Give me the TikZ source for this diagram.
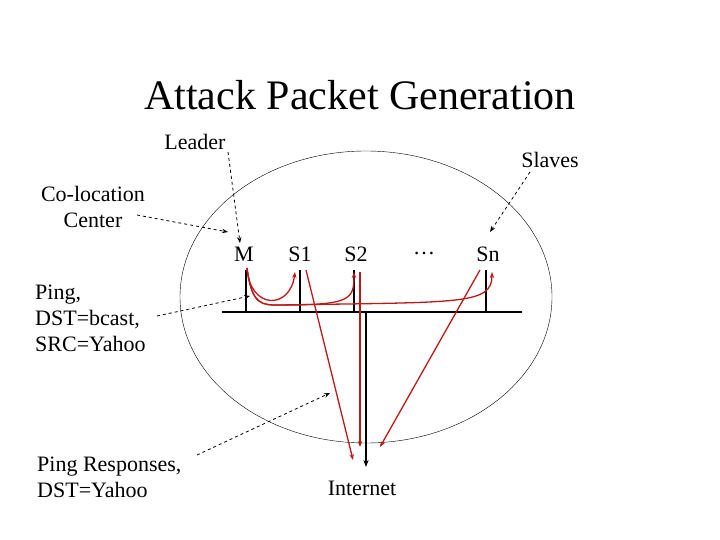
\documentclass[tikz,border=0pt]{standalone}
\usepackage{fontspec}
\setmainfont{Liberation Serif}
\usetikzlibrary{arrows.meta,shapes.geometric}
\definecolor{redline}{RGB}{190,25,25}
\begin{document}
\begin{tikzpicture}[x=1pt,y=-1pt,
  lbl/.style={font=\fontsize{22}{26}\selectfont,align=left,inner sep=0pt},
  dasharrow/.style={dashed,thick,-{Stealth[length=6pt]}},
  redarrow/.style={redline,line width=1.3pt,-{Stealth[length=6pt]}},
  wire/.style={line width=1.5pt}]
\useasboundingbox (0,0) rectangle (720,540);
\node (title) at (360,95) {\fontsize{42}{46}\selectfont Attack Packet Generation};
\node[draw,ellipse,minimum width=372pt,minimum height=292pt,inner sep=0pt] (ell) at (366,297) {};
\node[lbl] (leader) at (195,142) {Leader};
\node[lbl] (slaves) at (550,160) {Slaves};
\node[lbl,align=center] (coloc) at (93,207) {Co-location\\Center};
\node[lbl,anchor=west] (ping) at (35,318) {Ping,\\DST=bcast,\\SRC=Yahoo};
\node[lbl,anchor=west] (resp) at (37,477) {Ping Responses,\\DST=Yahoo};
\node[lbl] (inet) at (362,488) {Internet};
\node[lbl] (M) at (244,254) {M};
\node[lbl] (S1) at (300,254) {S1};
\node[lbl] (S2) at (356,254) {S2};
\node[lbl] (dots) at (424,254) {\dots};
\node[lbl] (Sn) at (488,254) {Sn};
% bus
\coordinate (bl) at (222,312); \coordinate (br) at (522,312);
\draw[wire] (bl) -- (br);
\foreach \n/\x in {m/246,a/300,b/354,n/486}{
  \coordinate (\n top) at (\x,270); \coordinate (\n bot) at (\x,312);
  \draw[wire] (\n top) -- (\n bot);}
\coordinate (trunk) at (366,312); \coordinate (trunkend) at (366,467);
\draw[wire,-{Stealth[length=7pt]}] (trunk) -- (trunkend);
% red curves
\coordinate (mr) at (247,268);
\coordinate (s1in) at (295,272); \coordinate (s2in) at (354,272); \coordinate (snin) at (492,272);
\draw[redarrow] (mr) .. controls (250,310) and (290,310) .. (s1in);
\draw[redarrow] (mr) .. controls (252,306) and (262,305) .. (280,305) .. controls (350,305) and (354,300) .. (s2in);
\draw[redarrow] (mr) .. controls (252,306) and (262,305) .. (280,305) .. controls (460,302) and (492,305) .. (snin);
\coordinate (s1out) at (306,270); \coordinate (s2out) at (360,272); \coordinate (snout) at (480,270);
\coordinate (i1) at (353,460); \coordinate (i2) at (360,447); \coordinate (i3) at (380,447);
\draw[redarrow] (s1out) -- (i1);
\draw[redarrow] (s2out) -- (i2);
\draw[redarrow] (snout) -- (i3);
% dashed pointers
\coordinate (p1) at (240,243); \coordinate (p2) at (490,232);
\coordinate (p3) at (228,232); \coordinate (p4) at (250,296); \coordinate (p5) at (330,393);
\draw[dasharrow] (228,152) -- (p1);
\draw[dasharrow] (530,172) -- (p2);
\draw[dasharrow] (137,215) -- (p3);
\draw[dasharrow] (157,316) -- (p4);
\draw[dasharrow] (197,455) -- (p5);
\end{tikzpicture}
\end{document}
